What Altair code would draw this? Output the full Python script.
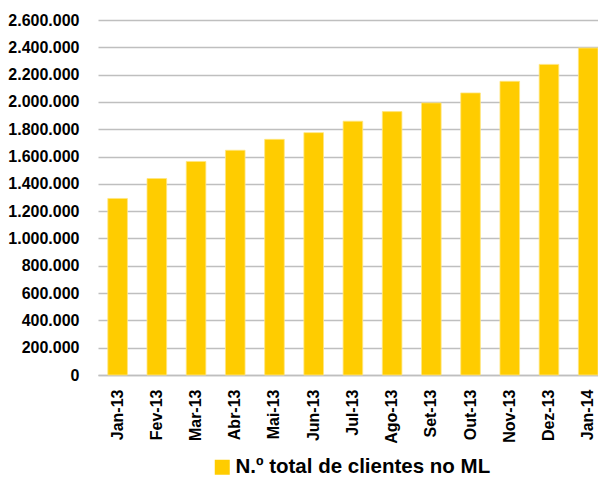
import altair as alt
import pandas as pd

months = ["Jan-13", "Fev-13", "Mar-13", "Abr-13", "Mai-13", "Jun-13", "Jul-13",
          "Ago-13", "Set-13", "Out-13", "Nov-13", "Dez-13", "Jan-14"]
clientes = [1293000, 1439000, 1564000, 1646000, 1726000, 1775000, 1859000,
            1929000, 1993000, 2066000, 2151000, 2275000, 2395000]
series_name = "N.º total de clientes no ML"
y_ticks = list(range(0, 2600001, 200000))

df = pd.DataFrame({"mes": months, "clientes": clientes, "serie": series_name})

font = "Liberation Sans"

chart = alt.Chart(df).mark_bar(stroke="#FFE680", strokeWidth=0.8).encode(
    x=alt.X("mes:N", sort=months, title=None,
            scale=alt.Scale(paddingInner=0.5, paddingOuter=0.125, align=1),
            axis=alt.Axis(labelAngle=-90, labelFont=font, labelFontSize=16,
                          labelFontWeight="bold", labelColor="#000000",
                          ticks=False, domainColor="#BFBFBF", domainWidth=1.5,
                          labelPadding=14)),
    y=alt.Y("clientes:Q", title=None,
            scale=alt.Scale(domain=[0, 2600000], nice=False),
            axis=alt.Axis(values=y_ticks, ticks=False, domain=False,
                          labelFont=font, labelFontSize=16, labelFontWeight="bold",
                          labelColor="#000000", labelPadding=19,
                          gridColor="#BFBFBF", gridWidth=1.3,
                          labelExpr="replace(format(datum.value, ','), regexp(',', 'g'), '.')")),
    color=alt.Color("serie:N", title=None,
                    scale=alt.Scale(domain=[series_name], range=["#FFCC00"]),
                    legend=alt.Legend(orient="none", legendX=114, legendY=437,
                                      symbolType="square",
                                      symbolSize=225, symbolStrokeWidth=0,
                                      labelOffset=3,
                                      labelFont=font, labelFontSize=20.5,
                                      labelFontWeight="bold", labelColor="#000000",
                                      labelLimit=400)),
).properties(
    width=500, height=355,
    autosize=alt.AutoSizeParams(type="none"),
    padding={"left": 90, "top": 12, "right": 0, "bottom": 102},
).configure_view(stroke=None)

chart.save("out.html", embed_options={"renderer": "svg", "actions": False})
